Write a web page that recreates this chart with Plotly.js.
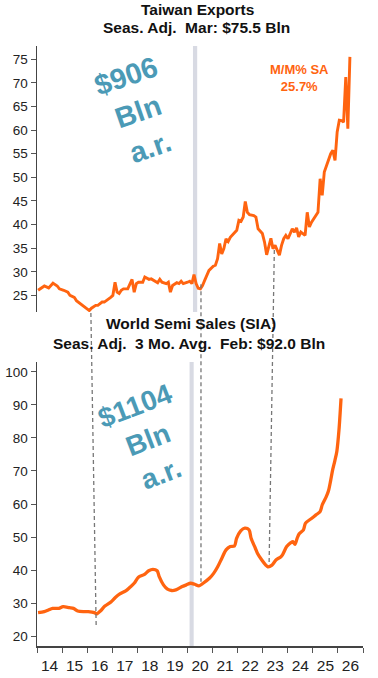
<!DOCTYPE html>
<html>
<head>
<meta charset="utf-8">
<script src="https://cdn.plot.ly/plotly-3.0.1.min.js"></script>
<style>
  html, body { margin: 0; padding: 0; background: #ffffff; }
  #chart { width: 378px; height: 678px; }
</style>
</head>
<body>
<div id="chart"></div>
<script>
// ---- Taiwan exports (Seas. Adj., $ Bln), monthly readings ----
const twDates = ['2014-01','2014-03','2014-04','2014-06','2014-07','2014-08','2014-10','2014-11',
  '2015-01','2015-03','2015-04','2015-06','2015-07','2015-09','2015-10','2015-12',
  '2016-01','2016-02','2016-04','2016-05','2016-07','2016-08','2016-10','2016-11','2016-12',
  '2017-01','2017-02','2017-03','2017-04','2017-05','2017-07','2017-08','2017-09','2017-10','2017-11','2017-12',
  '2018-02','2018-03','2018-05','2018-06','2018-07','2018-09','2018-10','2018-11',
  '2019-01','2019-02','2019-03','2019-04','2019-06','2019-07','2019-08','2019-09','2019-11','2019-12',
  '2020-01','2020-02','2020-03','2020-04','2020-05','2020-06','2020-07','2020-08','2020-09','2020-11','2020-12',
  '2021-01','2021-02','2021-03','2021-04','2021-05','2021-06','2021-07','2021-09','2021-10','2021-11','2021-12',
  '2022-01','2022-02','2022-03','2022-04','2022-06','2022-07','2022-08','2022-10','2022-11','2022-12',
  '2023-02','2023-03','2023-04','2023-06','2023-07','2023-08','2023-09','2023-10','2023-12',
  '2024-01','2024-02','2024-03','2024-04','2024-06','2024-07','2024-08','2024-09','2024-11','2024-12',
  '2025-01','2025-02','2025-03','2025-04','2025-06','2025-07','2025-08','2025-09','2025-10','2025-11','2025-12',
  '2026-01','2026-02','2026-03'];
const twValues = [26.1,26.8,27.0,26.6,27.1,27.6,27.0,26.4,
  26.1,25.7,25.0,24.6,23.9,23.2,22.9,22.2,
  21.8,22.3,22.9,22.9,23.6,23.6,24.2,24.6,25.0,
  27.8,25.7,25.4,26.1,26.4,26.4,27.5,28.4,25.7,27.5,27.8,
  27.8,28.9,28.4,28.5,28.2,27.7,28.4,27.8,
  27.5,27.8,25.7,27.1,27.7,27.5,28.0,27.5,27.8,28.0,
  27.5,29.4,27.5,26.5,26.4,27.1,28.2,29.2,30.3,31.2,31.4,
  32.8,36.0,33.8,34.9,37.0,36.4,37.3,38.4,38.8,40.9,40.7,
  41.6,44.9,42.6,42.1,41.9,41.6,39.1,38.1,36.3,33.6,
  37.1,34.9,35.6,33.5,35.6,37.0,37.7,37.0,39.1,
  38.4,39.3,37.4,38.4,37.7,42.6,39.5,40.5,41.9,42.6,
  49.7,46.2,51.1,52.5,55.0,55.7,53.6,59.6,62.1,62.0,61.7,
  71.2,60.3,75.5];

// ---- World semiconductor sales (SIA, 3 mo. avg., $ Bln) ----
const semiDates = ['2014-01','2014-04','2014-06','2014-08','2014-11',
  '2015-01','2015-04','2015-06','2015-08','2015-11',
  '2016-01','2016-04','2016-05','2016-07','2016-09','2016-12',
  '2017-02','2017-04','2017-07','2017-09','2017-11',
  '2018-01','2018-04','2018-06','2018-08','2018-10','2018-11',
  '2019-01','2019-03','2019-05','2019-07','2019-10','2019-12',
  '2020-02','2020-04','2020-06','2020-08','2020-11',
  '2021-01','2021-03','2021-05','2021-07','2021-09','2021-11','2021-12',
  '2022-02','2022-04','2022-06','2022-07','2022-09','2022-10','2022-12',
  '2023-02','2023-03','2023-05','2023-07','2023-09','2023-10','2023-12',
  '2024-02','2024-03','2024-04','2024-05','2024-06','2024-08','2024-09','2024-12',
  '2025-02','2025-04','2025-05','2025-07','2025-08','2025-09','2025-10','2025-11','2025-12',
  '2026-01','2026-02'];
const semiValues = [27.1,27.4,27.9,28.4,28.4,
  28.9,28.6,28.4,27.6,27.4,
  27.4,27.1,26.7,27.7,29.1,30.4,
  31.7,32.7,33.7,34.8,36.0,
  37.8,38.7,39.8,40.2,39.8,38.0,
  35.5,34.2,33.8,34.0,35.0,35.5,
  36.0,35.7,35.2,36.0,37.5,
  39.0,41.0,43.6,46.1,47.1,47.3,49.6,
  51.9,52.7,52.2,49.6,46.6,45.1,43.1,
  41.5,41.0,41.5,43.1,43.9,44.6,47.1,
  48.3,48.6,47.8,49.6,51.0,52.2,54.2,55.7,
  56.7,57.7,59.7,62.3,64.0,67.0,70.4,73.0,76.0,
  82.5,92.0];

const twTicks = [25,30,35,40,45,50,55,60,65,70,75];
const semiTicks = [20,30,40,50,60,70,80,90,100];
const recession = ['2020-02-01','2020-04-01'];

const ORANGE = '#ff6410';
const TEAL = '#4b9ab6';
const FONT = 'Liberation Sans, Arial, sans-serif';
const NB = '\u00a0';

const traces = [
  { x: twDates, y: twValues, xaxis: 'x2', yaxis: 'y2', type: 'scatter', mode: 'lines',
    xperiod: 'M1', xperiodalignment: 'middle',
    line: { color: ORANGE, width: 2.9 }, hoverinfo: 'skip' },
  { x: semiDates, y: semiValues, xaxis: 'x', yaxis: 'y', type: 'scatter', mode: 'lines',
    xperiod: 'M1', xperiodalignment: 'middle',
    line: { color: ORANGE, width: 3.3, shape: 'spline', smoothing: 0.8 }, hoverinfo: 'skip' }
];

const axisCommon = {
  showgrid: false, zeroline: false, showline: true, linecolor: '#444', linewidth: 1.5,
  ticks: 'outside', ticklen: 5, tickcolor: '#555', tickwidth: 1,
  tickfont: { family: FONT, size: 13.5, color: '#222' }
};

const titleFont = { family: FONT, size: 15.5, color: '#111' };

const layout = {
  width: 378, height: 678,
  margin: { l: 37, r: 15, t: 46, b: 32 },
  paper_bgcolor: '#ffffff', plot_bgcolor: '#ffffff',
  showlegend: false,
  xaxis: Object.assign({}, axisCommon, {
    type: 'date', domain: [0, 1], anchor: 'y',
    range: ['2014-01-01', '2027-01-01'],
    tick0: '2014-01-01', dtick: 'M12', tickformat: '%y', ticklabelmode: 'period',
    tickfont: { family: 'Liberation Sans Narrow, Liberation Sans, Arial, sans-serif', size: 15.5, color: '#222' }
  }),
  yaxis: Object.assign({}, axisCommon, {
    domain: [0, 0.4733], anchor: 'x', range: [17, 103], tickvals: semiTicks
  }),
  xaxis2: {
    type: 'date', domain: [0, 1], anchor: 'y2', range: ['2014-01-01', '2026-09-19'],
    visible: false, showgrid: false, zeroline: false
  },
  yaxis2: Object.assign({}, axisCommon, {
    domain: [0.5567, 1], anchor: 'x2', range: [21.5, 77.8], tickvals: twTicks
  }),
  shapes: [
    { type: 'rect', xref: 'x2', yref: 'y2 domain', x0: recession[0], x1: recession[1], y0: 0, y1: 1,
      fillcolor: '#d8dae3', line: { width: 0 }, layer: 'below' },
    { type: 'rect', xref: 'x', yref: 'y domain', x0: recession[0], x1: recession[1], y0: 0, y1: 1,
      fillcolor: '#d8dae3', line: { width: 0 }, layer: 'below' },
    { type: 'line', xref: 'paper', yref: 'paper', x0: 0.1653, y0: 0.555, x1: 0.1816, y1: 0.03,
      line: { color: '#777', width: 1.3, dash: '4px,3px' } },
    { type: 'line', xref: 'paper', yref: 'paper', x0: 0.503, y0: 0.603, x1: 0.503, y1: 0.107,
      line: { color: '#777', width: 1.3, dash: '4px,3px' } },
    { type: 'line', xref: 'paper', yref: 'paper', x0: 0.728, y0: 0.66, x1: 0.712, y1: 0.138,
      line: { color: '#777', width: 1.3, dash: '4px,3px' } }
  ],
  annotations: [
    { xref: 'paper', yref: 'paper', x: 0.492, y: 1.06, xanchor: 'center', yanchor: 'middle', showarrow: false,
      text: '<b>Taiwan Exports</b>', font: titleFont },
    { xref: 'paper', yref: 'paper', x: 0.490, y: 1.03, xanchor: 'center', yanchor: 'middle', showarrow: false,
      text: '<b>Seas. Adj.' + NB + NB + 'Mar: $75.5 Bln</b>', font: titleFont },
    { xref: 'paper', yref: 'paper', x: 0.471, y: 0.538, xanchor: 'center', yanchor: 'middle', showarrow: false,
      text: '<b>World Semi Sales (SIA)</b>', font: titleFont },
    { xref: 'paper', yref: 'paper', x: 0.465, y: 0.505, xanchor: 'center', yanchor: 'middle', showarrow: false,
      text: '<b>Seas. Adj.' + NB + NB + '3 Mo. Avg.' + NB + NB + 'Feb: $92.0 Bln</b>', font: titleFont },
    { xref: 'paper', yref: 'paper', x: 0.31, y: 0.89, xanchor: 'center', yanchor: 'middle', showarrow: false, textangle: -19,
      text: '<b>$906<br>Bln<br>a.r.</b>', align: 'center', font: { family: FONT, size: 29, color: TEAL } },
    { xref: 'paper', yref: 'paper', x: 0.341, y: 0.343, xanchor: 'center', yanchor: 'middle', showarrow: false, textangle: -21,
      text: '<b>$1104<br>Bln<br>a.r.</b>', align: 'center', font: { family: FONT, size: 28, color: TEAL } },
    { xref: 'paper', yref: 'paper', x: 0.806, y: 0.9475, xanchor: 'center', yanchor: 'middle', showarrow: false,
      text: '<b>M/M% SA<br>25.7%</b>', align: 'center', font: { family: FONT, size: 13, color: ORANGE } }
  ]
};

Plotly.newPlot('chart', traces, layout, { staticPlot: true, displayModeBar: false });
</script>
</body>
</html>
